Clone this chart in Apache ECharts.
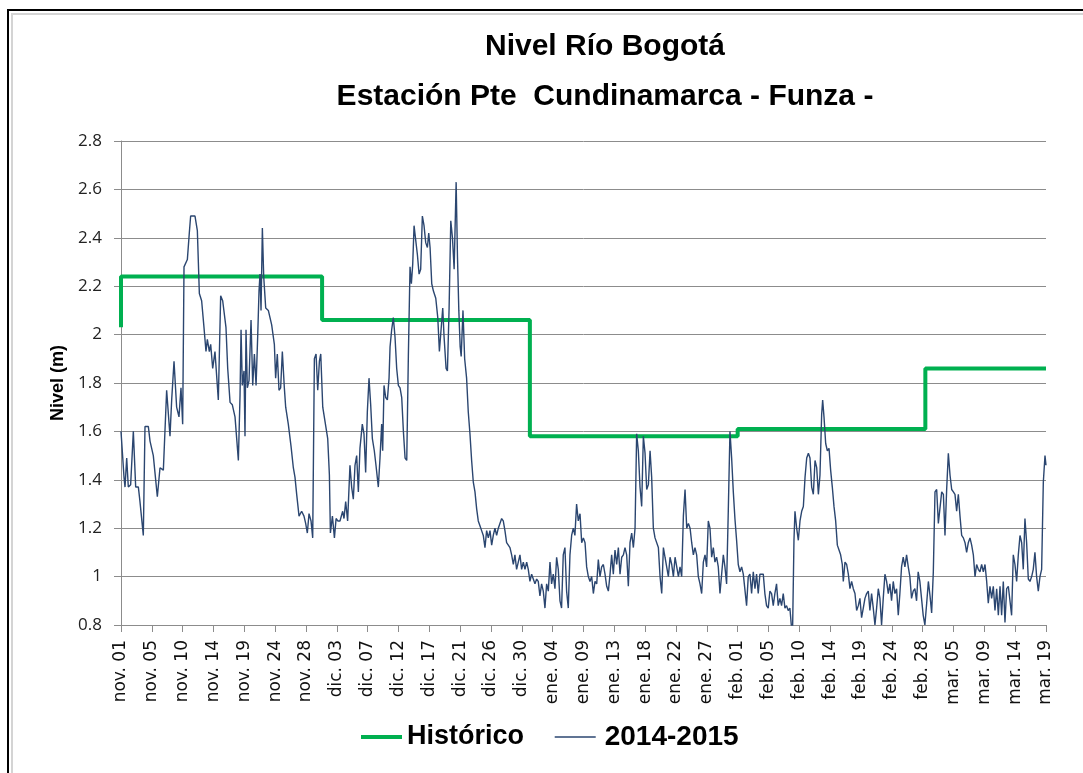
<!DOCTYPE html>
<html>
<head>
<meta charset="utf-8">
<title>Nivel Río Bogotá</title>
<script src="https://cdn.jsdelivr.net/npm/echarts@6/dist/echarts.min.js"></script>
<style>
  html, body { margin: 0; padding: 0; background: #fff; }
  #chart { width: 1083px; height: 773px; }
</style>
</head>
<body>
<div id="chart"></div>
<script>
// x = days since 2014-11-01, y = nivel (m)
const xTickLabels = ['nov. 01','nov. 05','nov. 10','nov. 14','nov. 19','nov. 24','nov. 28',
  'dic. 03','dic. 07','dic. 12','dic. 17','dic. 21','dic. 26','dic. 30',
  'ene. 04','ene. 09','ene. 13','ene. 18','ene. 22','ene. 27',
  'feb. 01','feb. 05','feb. 10','feb. 14','feb. 19','feb. 24','feb. 28',
  'mar. 05','mar. 09','mar. 14','mar. 19'];
const lastDay = 138;

// historico: mean level per month
const histMonthStart = [0, 30, 61, 92, 120];
const histLevel = [2.24, 2.06, 1.58, 1.61, 1.86];
const histFirst = 2.03;

// 2014-2015 observed level
const obsNov = [[0,1.60],[0.45,1.41],[0.6,1.37],[0.85,1.49],[1.09,1.37],[1.44,1.38],[1.84,1.60],[2.19,1.37],[2.59,1.37],[2.83,1.31],[3.33,1.17],[3.58,1.62],[4.08,1.62],[4.33,1.56],[4.82,1.50],[5.42,1.33],[5.82,1.45],[6.32,1.44],[6.81,1.77],[7.31,1.58],[7.56,1.73],[7.91,1.89],[8.3,1.70],[8.65,1.66],[8.95,1.78],[9.2,1.63],[9.4,2.28],[9.9,2.31],[10.19,2.42],[10.39,2.49],[11.04,2.49],[11.39,2.43],[11.69,2.17],[12.03,2.14],[12.38,2.03],[12.68,1.93],[12.88,1.98],[13.18,1.93],[13.38,1.96],[13.68,1.86],[14.02,1.93],[14.52,1.73],[14.87,2.16],[15.17,2.14],[15.66,2.03],[15.92,1.86],[16.27,1.72],[16.61,1.71],[17.01,1.66],[17.26,1.57],[17.51,1.48],[17.76,1.75],[17.91,2.02],[18.1,1.79],[18.35,1.85],[18.5,1.58],[18.65,2.02],[18.85,1.78],[19.1,1.81],[19.4,2.06],[19.65,1.79],[19.9,1.92],[20.15,1.79],[20.39,1.99],[20.59,2.18],[20.74,2.25],[20.89,2.10],[21.09,2.44],[21.29,2.24],[21.59,2.11],[21.98,2.10],[22.48,2.04],[22.88,1.96],[23.07,1.82],[23.32,1.92],[23.57,1.77],[23.82,1.78],[24.07,1.93],[24.37,1.78],[24.57,1.70],[24.96,1.63],[25.36,1.54],[25.71,1.45],[25.96,1.41],[26.21,1.34],[26.56,1.25],[26.95,1.27],[27.3,1.25],[27.55,1.22],[27.8,1.18],[28.05,1.26],[28.35,1.23],[28.6,1.16],[28.85,1.90],[29.1,1.92],[29.35,1.77],[29.6,1.89],[29.8,1.92]];
const obsDic = [[30.1,1.70],[30.44,1.64],[30.84,1.57],[31.09,1.42],[31.24,1.18],[31.54,1.25],[31.84,1.16],[32.09,1.24],[32.34,1.23],[32.67,1.23],[33.07,1.27],[33.27,1.24],[33.52,1.31],[33.81,1.23],[34.16,1.46],[34.41,1.37],[34.66,1.32],[34.91,1.46],[35.16,1.50],[35.41,1.35],[35.65,1.53],[36.0,1.63],[36.25,1.59],[36.5,1.43],[36.75,1.68],[37.0,1.82],[37.25,1.71],[37.5,1.57],[37.79,1.52],[38.04,1.46],[38.39,1.37],[38.64,1.49],[38.89,1.63],[39.04,1.52],[39.24,1.79],[39.49,1.74],[39.74,1.73],[39.99,1.82],[40.14,1.95],[40.38,2.02],[40.63,2.07],[40.88,1.99],[41.13,1.86],[41.38,1.79],[41.63,1.78],[41.88,1.74],[42.13,1.60],[42.38,1.49],[42.63,1.48],[42.87,1.91],[43.12,2.28],[43.32,2.21],[43.52,2.29],[43.72,2.45],[43.97,2.45],[44.22,2.33],[44.47,2.25],[44.71,2.27],[44.96,2.49],[45.21,2.45],[45.46,2.38],[45.71,2.36],[45.91,2.42],[46.11,2.36],[46.36,2.21],[46.61,2.18],[46.96,2.15],[47.26,2.07],[47.5,1.93],[47.7,1.93],[48.0,2.11],[48.2,1.99],[48.5,1.86],[48.7,1.85],[48.95,2.11],[49.2,2.47],[49.45,2.40],[49.7,2.27],[50.0,2.63],[50.2,2.32],[50.4,2.10],[50.6,1.95],[50.75,1.91],[51.02,2.10],[51.27,1.90],[51.56,1.82],[51.81,1.68],[52.06,1.59],[52.31,1.48],[52.56,1.39],[52.81,1.35],[53.06,1.28],[53.3,1.23],[53.55,1.21],[53.8,1.19],[54.05,1.17],[54.3,1.12],[54.55,1.19],[54.8,1.16],[55.05,1.19],[55.3,1.13],[55.54,1.17],[55.79,1.20],[56.04,1.17],[56.29,1.20],[56.54,1.20],[56.79,1.24],[57.03,1.23],[57.28,1.19],[57.53,1.14],[57.78,1.14],[58.03,1.12],[58.28,1.09],[58.53,1.05],[58.77,1.09],[59.02,1.03],[59.27,1.06],[59.52,1.09],[59.77,1.03],[60.02,1.06],[60.27,1.03],[60.52,1.06],[60.76,1.03]];
const obsEne = [[61.01,0.98],[61.26,1.01],[61.51,0.99],[61.76,0.97],[62.01,0.99],[62.25,0.98],[62.5,0.92],[62.75,0.97],[63.0,0.94],[63.25,0.87],[63.5,0.97],[63.75,0.94],[64.0,1.06],[64.24,0.97],[64.49,1.01],[64.74,0.95],[64.99,1.08],[65.24,1.03],[65.49,0.90],[65.73,0.87],[65.98,1.09],[66.23,1.12],[66.48,0.94],[66.73,0.87],[66.98,1.09],[67.23,1.17],[67.48,1.20],[67.72,1.17],[67.97,1.30],[68.22,1.23],[68.48,1.26],[68.73,1.14],[68.98,1.16],[69.23,1.14],[69.47,1.04],[69.72,1.00],[69.97,0.98],[70.22,1.00],[70.47,0.93],[70.72,0.98],[70.97,0.97],[71.21,1.07],[71.46,1.00],[71.71,1.04],[71.96,1.05],[72.21,1.01],[72.46,0.96],[72.71,0.94],[72.96,1.01],[73.2,1.09],[73.45,1.01],[73.7,1.11],[73.95,1.05],[74.2,1.12],[74.45,1.01],[74.7,1.08],[74.95,1.09],[75.19,1.12],[75.44,1.09],[75.69,0.96],[75.94,1.14],[76.19,1.18],[76.44,1.12],[76.69,1.20],[76.93,1.59],[77.18,1.52],[77.43,1.37],[77.68,1.29],[77.93,1.58],[78.18,1.51],[78.43,1.36],[78.68,1.38],[78.93,1.52],[79.17,1.41],[79.42,1.20],[79.67,1.16],[79.92,1.16],[80.17,1.12],[80.42,1.00],[80.67,0.93],[80.92,1.12],[81.16,1.08],[81.41,1.04],[81.66,1.00],[81.91,1.08],[82.16,1.05],[82.41,1.00],[82.66,1.08],[82.91,1.08],[83.16,1.00],[83.4,1.04],[83.65,1.00],[83.9,1.25],[84.15,1.36],[84.4,1.20],[84.65,1.22],[84.9,1.20],[85.14,1.14],[85.39,1.09],[85.63,1.12],[85.88,1.09],[86.13,1.00],[86.38,0.97],[86.63,0.93],[86.88,1.06],[87.13,1.09],[87.37,1.04],[87.62,1.23],[87.87,1.20],[88.12,1.08],[88.37,1.12],[88.61,1.06],[88.86,1.08],[89.11,1.04],[89.36,0.93],[89.61,1.01],[89.86,1.09],[90.1,1.04],[90.35,0.97],[90.6,1.27],[90.85,1.60],[91.1,1.49],[91.35,1.35],[91.59,1.24],[91.84,1.15]];
const obsFeb = [[92.09,1.05],[92.34,1.02],[92.59,1.04],[92.84,1.01],[93.09,1.01],[93.33,0.88],[93.58,1.00],[93.83,1.01],[94.08,0.93],[94.33,1.02],[94.58,0.95],[94.82,1.01],[95.07,0.93],[95.32,1.01],[95.57,1.01],[95.82,1.01],[96.06,0.93],[96.31,0.88],[96.56,0.87],[96.81,0.94],[97.06,0.93],[97.31,0.88],[97.55,0.93],[97.8,0.97],[98.05,0.88],[98.3,0.91],[98.55,0.88],[98.8,0.93],[99.05,0.87],[99.29,0.88],[99.54,0.86],[99.79,0.87],[100.0,0.80],[100.2,0.79],[100.4,1.15],[100.55,1.27],[100.8,1.20],[101.05,1.15],[101.3,1.23],[101.55,1.27],[101.8,1.29],[102.05,1.41],[102.3,1.49],[102.55,1.51],[102.79,1.49],[103.04,1.37],[103.29,1.34],[103.54,1.48],[103.79,1.45],[104.04,1.34],[104.28,1.42],[104.53,1.67],[104.68,1.73],[104.88,1.66],[105.13,1.55],[105.38,1.52],[105.63,1.53],[105.87,1.44],[106.12,1.37],[106.37,1.29],[106.62,1.23],[106.87,1.13],[107.12,1.11],[107.36,1.09],[107.61,1.05],[107.76,0.98],[108.01,1.06],[108.26,1.05],[108.51,1.01],[108.75,0.95],[109.0,0.98],[109.25,0.95],[109.5,0.93],[109.75,0.86],[110.0,0.88],[110.24,0.91],[110.49,0.83],[110.74,0.87],[110.99,0.91],[111.24,0.93],[111.49,0.94],[111.73,0.86],[111.98,0.93],[112.23,0.87],[112.48,0.80],[112.73,0.87],[112.98,0.95],[113.22,0.91],[113.47,0.80],[113.72,0.91],[113.97,1.01],[114.22,0.98],[114.47,0.93],[114.71,0.97],[114.96,0.90],[115.21,0.98],[115.46,0.93],[115.71,0.95],[115.96,0.84],[116.2,0.93],[116.45,1.04],[116.7,1.08],[116.95,1.04],[117.2,1.09],[117.45,1.04],[117.69,1.00],[117.94,0.91],[118.19,0.94],[118.44,0.95],[118.69,0.90],[118.93,1.02],[119.18,0.98],[119.43,0.91],[119.68,0.84],[119.93,0.80]];
const obsMar = [[120.2,0.89],[120.45,0.98],[120.7,0.92],[120.94,0.85],[121.19,1.02],[121.44,1.35],[121.69,1.36],[121.94,1.22],[122.19,1.22],[122.44,1.35],[122.69,1.34],[122.93,1.17],[123.18,1.36],[123.43,1.51],[123.68,1.42],[123.93,1.36],[124.18,1.35],[124.42,1.34],[124.67,1.27],[124.92,1.34],[125.17,1.25],[125.42,1.17],[125.67,1.16],[125.92,1.14],[126.16,1.10],[126.41,1.14],[126.66,1.16],[126.91,1.13],[127.16,1.09],[127.41,1.00],[127.65,1.05],[127.9,1.03],[128.15,1.02],[128.4,1.05],[128.65,1.02],[128.9,1.05],[129.15,0.98],[129.39,0.89],[129.64,0.96],[129.89,0.91],[130.14,0.96],[130.39,0.86],[130.64,0.95],[130.89,0.84],[131.14,0.96],[131.38,0.84],[131.63,0.98],[131.88,0.81],[132.13,0.95],[132.38,0.96],[132.63,0.96],[132.87,0.84],[133.12,1.09],[133.37,1.05],[133.62,0.98],[133.87,1.09],[134.12,1.17],[134.37,1.14],[134.61,1.03],[134.86,1.24],[135.11,1.14],[135.36,0.99],[135.61,0.98],[135.86,1.00],[136.1,1.03],[136.35,1.10],[136.6,1.00],[136.85,0.94],[137.1,1.00],[137.35,1.03],[137.6,1.39],[137.85,1.50],[138,1.46]];

const obsData = [].concat(obsNov, obsDic, obsEne, obsFeb, obsMar);

// step line for historico
const histData = [[0, histFirst]];
histMonthStart.forEach((d, i) => {
  const end = i + 1 < histMonthStart.length ? histMonthStart[i + 1] : lastDay;
  histData.push([d, histLevel[i]]);
  histData.push([end, histLevel[i]]);
});

const tickStep = lastDay / (xTickLabels.length - 1); // 4.6 days

const chart = echarts.init(document.getElementById('chart'));
const gridGrey = '#8c8c8c';
const histColor = '#00b050';
const obsColor = '#2b4670';

chart.setOption({
  backgroundColor: '#fff',
  animation: false,
  graphic: [
    { type: 'rect', shape: { x: 8, y: 10, width: 1100, height: 800 }, style: { fill: 'none', stroke: '#000', lineWidth: 2 } },
    { type: 'rect', shape: { x: 12, y: 14, width: 1100, height: 800 }, style: { fill: 'none', stroke: '#d4d4d4', lineWidth: 2 } }
  ],
  title: {
    text: 'Nivel Río Bogotá\nEstación Pte  Cundinamarca - Funza -',
    left: 600,
    top: 17,
    textAlign: 'center',
    textStyle: { fontFamily: 'Liberation Sans', fontWeight: 'bold', fontSize: 30, lineHeight: 50, color: '#000' }
  },
  legend: {
    left: 354,
    top: 718,
    itemWidth: 41,
    itemHeight: 14,
    itemGap: 30,
    itemStyle: { opacity: 0 },
    textStyle: { fontFamily: 'Liberation Sans', fontWeight: 'bold', fontSize: 27, color: '#000' },
    data: [
      { name: 'Histórico', lineStyle: { width: 4 } },
      { name: '2014-2015', lineStyle: { width: 1.4 }, textStyle: { padding: [0, 0, 0, 4], fontSize: 28 } }
    ]
  },
  grid: { left: 121, right: 37, top: 141, bottom: 148 },
  xAxis: {
    type: 'value',
    min: 0,
    max: lastDay,
    interval: tickStep,
    axisLine: { show: true, onZero: false, lineStyle: { color: gridGrey, width: 1 } },
    axisTick: { show: true, length: 7, lineStyle: { color: gridGrey } },
    splitLine: { show: false },
    axisLabel: {
      rotate: 90,
      margin: 15,
      showMinLabel: true,
      showMaxLabel: true,
      fontFamily: 'DejaVu Sans',
      fontSize: 17,
      color: '#111',
      formatter: v => xTickLabels[Math.round(v / tickStep)]
    }
  },
  yAxis: {
    type: 'value',
    min: 0.8,
    max: 2.8,
    interval: 0.2,
    name: 'Nivel (m)',
    nameLocation: 'middle',
    nameGap: 52,
    nameTextStyle: { fontFamily: 'Liberation Sans', fontWeight: 'bold', fontSize: 18, color: '#000' },
    axisLine: { show: true, lineStyle: { color: gridGrey, width: 1 } },
    axisTick: { show: true, length: 7, lineStyle: { color: gridGrey } },
    splitLine: { show: true, lineStyle: { color: gridGrey, width: 1 } },
    axisLabel: { margin: 19, fontFamily: 'Open Sans', fontSize: 17, color: '#222' }
  },
  series: [
    {
      name: 'Histórico',
      type: 'line',
      data: histData,
      symbol: 'none',
      lineStyle: { color: histColor, width: 4 },
      itemStyle: { color: histColor }
    },
    {
      name: '2014-2015',
      type: 'line',
      data: obsData,
      symbol: 'none',
      lineStyle: { color: obsColor, width: 1.4 },
      itemStyle: { color: obsColor }
    }
  ]
});
</script>
</body>
</html>
